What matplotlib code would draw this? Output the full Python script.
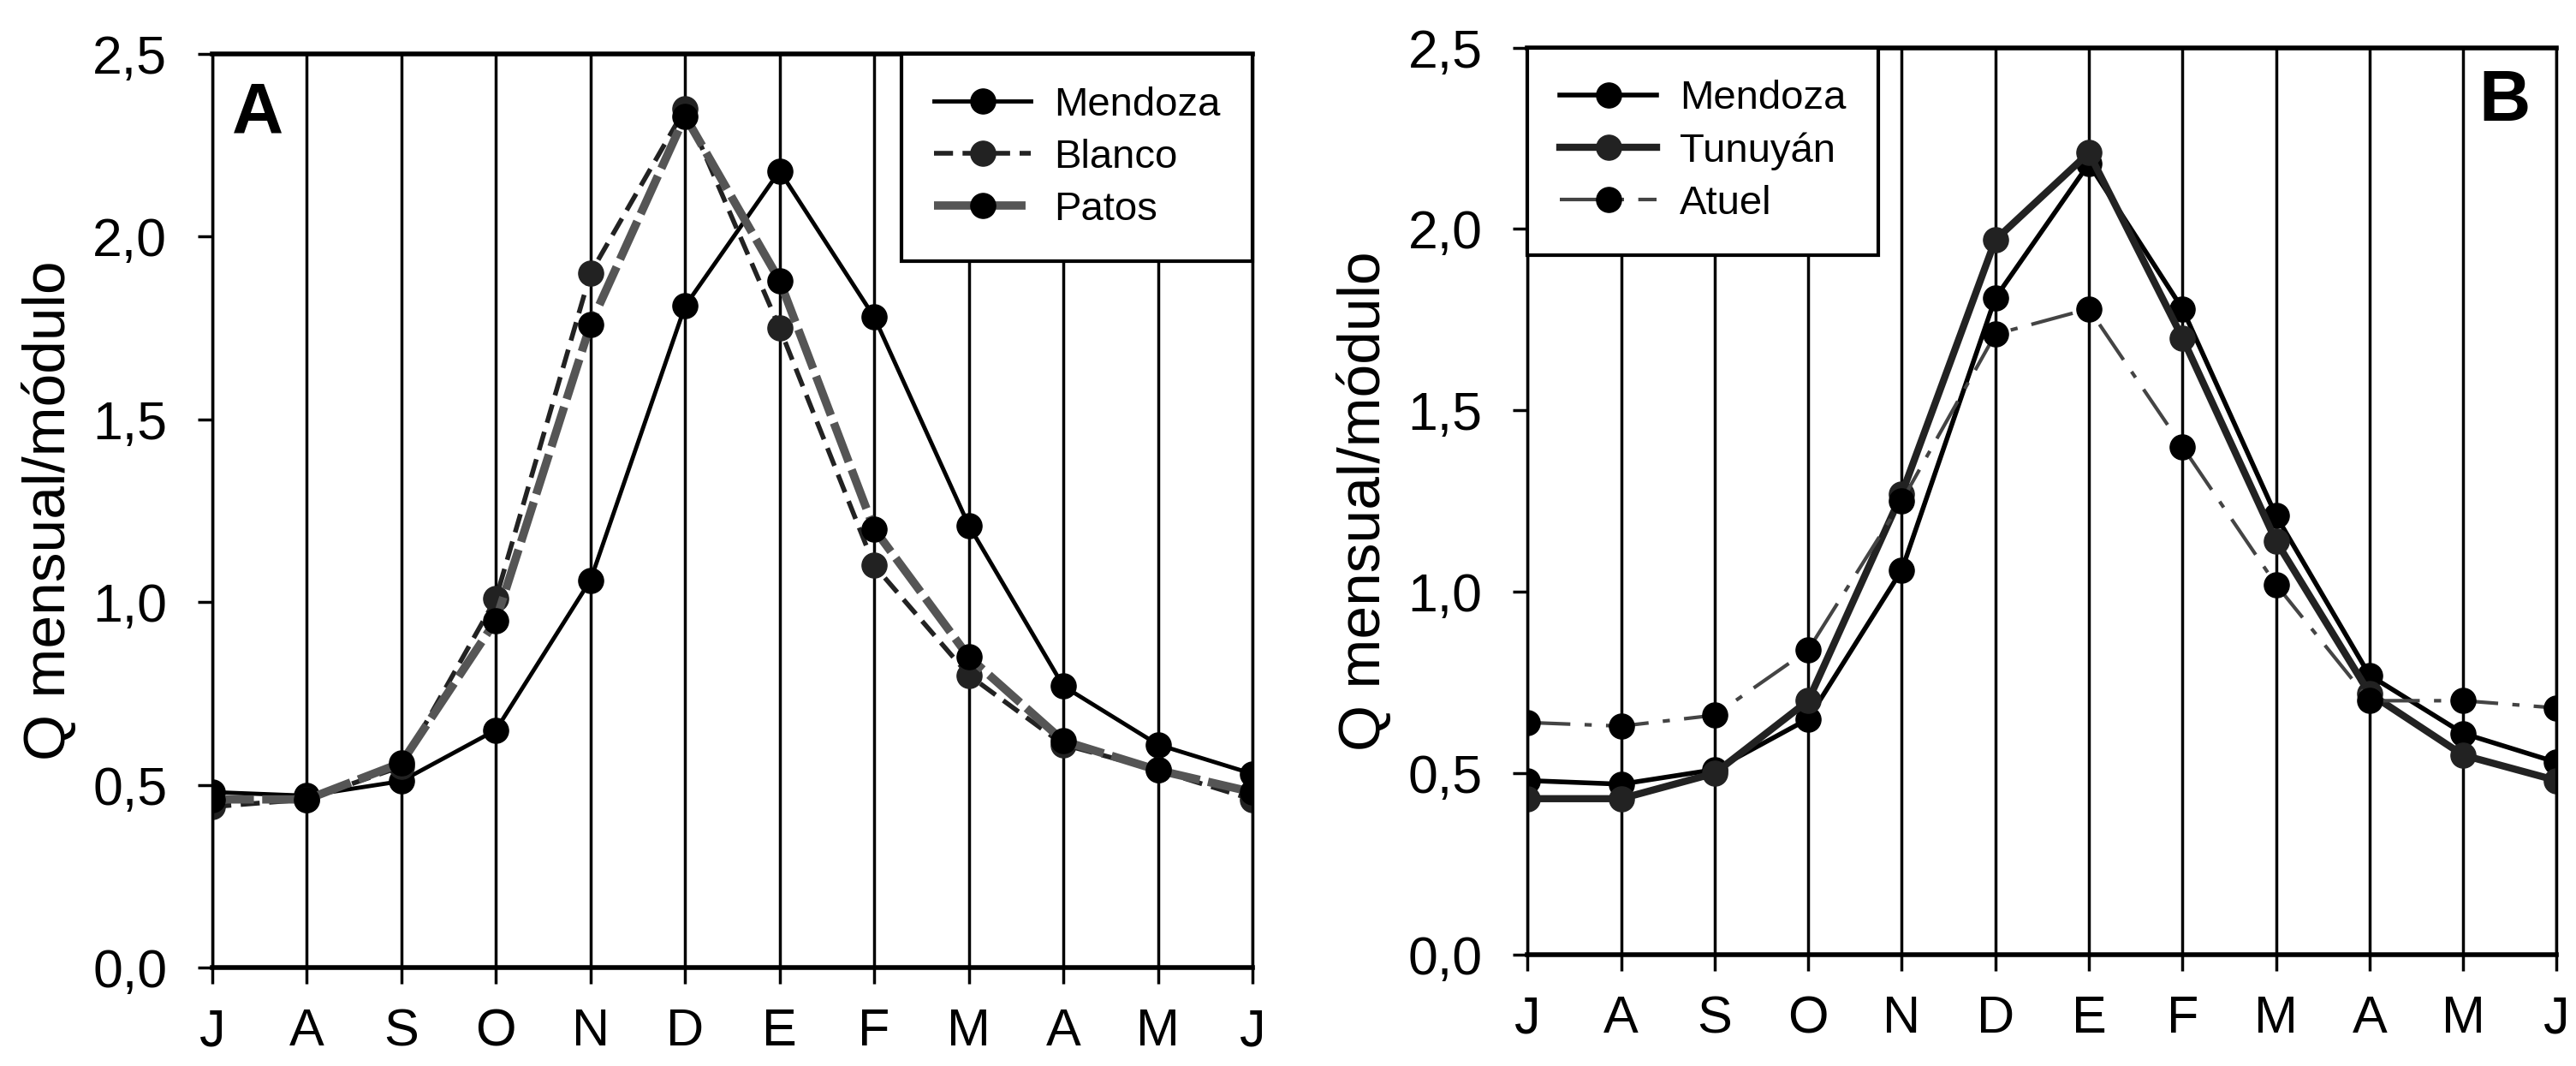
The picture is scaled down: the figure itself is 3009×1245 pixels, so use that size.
import numpy as np
import matplotlib.pyplot as plt
from matplotlib.ticker import FuncFormatter

plt.rcParams['font.family'] = ['Liberation Sans', 'DejaVu Sans']

meses = ["J", "A", "S", "O", "N", "D", "E", "F", "M", "A", "M", "J"]

# panel A
mendoza = [0.48, 0.47, 0.51, 0.65, 1.06, 1.81, 2.18, 1.78, 1.21, 0.77, 0.61, 0.53]
blanco = [0.44, 0.46, 0.55, 1.01, 1.90, 2.35, 1.75, 1.10, 0.80, 0.61, 0.54, 0.46]
patos = [0.46, 0.46, 0.56, 0.95, 1.76, 2.33, 1.88, 1.20, 0.85, 0.62, 0.54, 0.48]

# panel B
tunuyan = [0.43, 0.43, 0.50, 0.70, 1.27, 1.97, 2.21, 1.70, 1.14, 0.72, 0.55, 0.48]
atuel = [0.64, 0.63, 0.66, 0.84, 1.25, 1.71, 1.78, 1.40, 1.02, 0.70, 0.70, 0.68]

fig_dpi = 100
fig = plt.figure(dpi=fig_dpi, figsize=(3009/fig_dpi, 1245/fig_dpi))
ax1 = fig.add_axes([0.0824, 0.0924, 0.4038, 0.857])
ax2 = fig.add_axes([0.593, 0.1044, 0.3995, 0.851])

x = np.arange(len(meses))
ms = 21

def comma(v, pos):
    return '{:.1f}'.format(v).replace('.', ',')

def base(ax, letra, pos_letra):
    ax.set_xlim(0, 11)
    ax.set_ylim(0, 2.5)
    ax.set_xticks(x)
    ax.set_xticklabels(meses, fontsize=44)
    ax.set_yticks(np.arange(0, 2.51, 0.5))
    ax.yaxis.set_major_formatter(FuncFormatter(comma))
    ax.tick_params(axis='y', labelsize=45, length=12, width=2.5, pad=26)
    ax.tick_params(axis='x', length=14, width=2.5, pad=20)
    ax.grid(axis='x', color='black', linewidth=2.5)
    ax.set_axisbelow(True)
    for s in ax.spines.values():
        s.set_linewidth(2.5)
    ax.spines['top'].set_linewidth(4)
    ax.spines['bottom'].set_linewidth(4)
    ax.set_ylabel("Q mensual/módulo", fontsize=50, labelpad=13)
    ax.text(pos_letra[0], pos_letra[1], letra, transform=ax.transAxes, fontsize=60,
            fontweight='bold', ha='center', va='center')

ax1.plot(x, mendoza, color='black', linewidth=3.5, marker='o', markersize=ms, label="Mendoza")
ax1.plot(x, blanco, color='#222222', linewidth=4, linestyle=(0, (4, 2)), marker='o', markersize=ms,
         label="Blanco")
ax1.plot(x, patos, color='#555555', linewidth=7, linestyle=(0, (5, 1)), marker='o', markersize=ms,
         markerfacecolor='black', markeredgecolor='black', label="Patos")
base(ax1, "A", (0.044, 0.934))
leg = ax1.legend(loc='upper right', borderaxespad=0, fontsize=34, fancybox=False, framealpha=1,
                 edgecolor='black', handlelength=2.4, handletextpad=0.56, borderpad=0.8,
                 labelspacing=0.36)
leg.get_frame().set_linewidth(3)

ax2.plot(x, mendoza, color='black', linewidth=4, marker='o', markersize=ms, label="Mendoza")
ax2.plot(x, tunuyan, color='#222222', linewidth=6, marker='o', markersize=ms, label="Tunuyán")
ax2.plot(x, atuel, color='#444444', linewidth=3, linestyle=(0, (12, 4, 2, 4)), marker='o',
         markersize=ms, markerfacecolor='black', markeredgecolor='black', label="Atuel")
base(ax2, "B", (0.949, 0.94))
leg2 = ax2.legend(loc='upper left', borderaxespad=0, fontsize=34, fancybox=False, framealpha=1,
                  edgecolor='black', handlelength=2.4, handletextpad=0.56, borderpad=0.8,
                  labelspacing=0.36)
leg2.get_frame().set_linewidth(3)

fig.savefig("out.png", dpi=fig_dpi)
